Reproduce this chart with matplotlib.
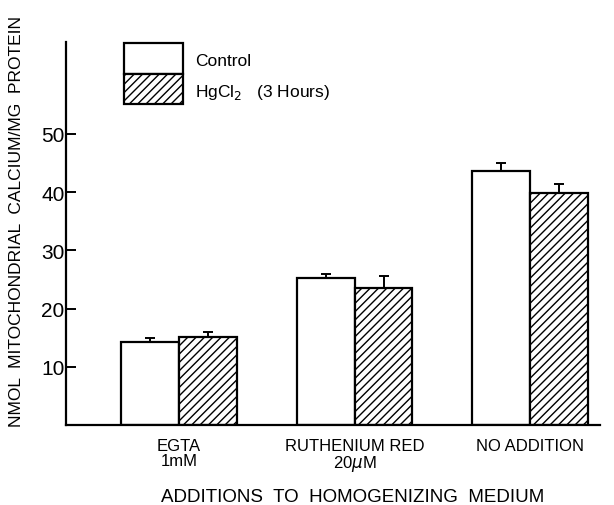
import matplotlib
matplotlib.use("Agg")
import matplotlib.pyplot as plt
from matplotlib.patches import Rectangle
import numpy as np

plt.rcParams['font.family'] = ['Liberation Sans', 'DejaVu Sans']
plt.rcParams['hatch.linewidth'] = 1.0

# data
categories = ["EGTA\n1mM", "RUTHENIUM RED\n20$\\mu$M", "NO ADDITION"]
control = [14.3, 25.3, 43.6]
control_err = [0.6, 0.6, 1.5]
hgcl2 = [15.1, 23.5, 39.8]
hgcl2_err = [0.8, 2.1, 1.6]
yticks = [10, 20, 30, 40, 50]

fig = plt.figure(figsize=(6.14, 5.06), dpi=100)
ax = fig.add_axes([0.1075, 0.158, 0.87, 0.757])

x = np.arange(len(categories))
w = 0.33
ax.bar(x - w/2, control, w, color="white", edgecolor="black", linewidth=1.6)
ax.bar(x + w/2, hgcl2, w, color="white", edgecolor="black", linewidth=1.6, hatch="////")
ax.errorbar(x - w/2, control, yerr=[np.zeros(3), control_err], fmt="none",
            ecolor="black", elinewidth=1.4, capsize=3.5, capthick=1.4)
ax.errorbar(x + w/2, hgcl2, yerr=[np.zeros(3), hgcl2_err], fmt="none",
            ecolor="black", elinewidth=1.4, capsize=3.5, capthick=1.4)

ax.set_xlim(-0.645, 2.4)
ax.set_ylim(0, 65.8)
ax.spines["top"].set_visible(False)
ax.spines["right"].set_visible(False)
ax.spines["left"].set_linewidth(1.6)
ax.spines["bottom"].set_linewidth(1.6)

ax.set_yticks(yticks)
ax.set_yticklabels([str(t) for t in yticks], fontsize=15)
ax.tick_params(axis="y", direction="in", length=7, width=1.4, pad=1)
ax.set_xticks(x)
ax.set_xticklabels(categories, fontsize=12, linespacing=1.05)
ax.tick_params(axis="x", length=0, pad=9)

ax.set_xlabel("ADDITIONS  TO  HOMOGENIZING  MEDIUM", fontsize=13.5)
ax.xaxis.set_label_coords(0.536, -0.165)
ax.set_ylabel("NMOL  MITOCHONDRIAL  CALCIUM/MG  PROTEIN", fontsize=12.5)
ax.yaxis.set_label_coords(-0.078, 0.535)

# legend drawn as stacked boxes
W, H = 614, 506
def fbox(x0, y0, x1, y1):
    return (x0 / W, 1 - y1 / H), (x1 - x0) / W, (y1 - y0) / H

xy, bw, bh = fbox(124, 44, 183, 75)
fig.patches.append(Rectangle(xy, bw, bh, transform=fig.transFigure,
                             facecolor="white", edgecolor="black", linewidth=1.6))
xy, bw, bh = fbox(124, 75, 183, 105)
fig.patches.append(Rectangle(xy, bw, bh, transform=fig.transFigure,
                             facecolor="white", edgecolor="black", linewidth=1.6, hatch="////"))
fig.text(195 / W, 1 - 62 / H, "Control", fontsize=12.5, va="center")
fig.text(195 / W, 1 - 92 / H, "HgCl$_2$   (3 Hours)", fontsize=12.5, va="center")

fig.savefig("out.png", dpi=100)
